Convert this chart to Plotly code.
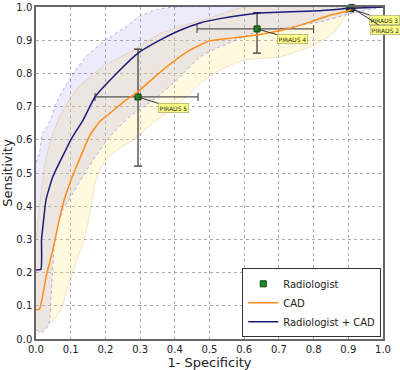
import plotly.graph_objects as go

# --- Radiologist + CAD (mean ROC) ---
rc_x = [0.0, 0.014, 0.016, 0.02, 0.029, 0.049, 0.086, 0.103, 0.136, 0.17, 0.242, 0.294, 0.357, 0.415, 0.473, 0.53, 0.645, 0.818, 0.905, 1.0]
rc_y = [0.208, 0.21, 0.30, 0.34, 0.42, 0.49, 0.57, 0.605, 0.66, 0.729, 0.81, 0.861, 0.9, 0.93, 0.952, 0.965, 0.982, 0.989, 0.996, 1.0]
# confidence band (Radiologist + CAD)
rc_hi_x = [0.0, 0.01, 0.019, 0.04, 0.058, 0.095, 0.144, 0.2, 0.259, 0.3, 0.35, 0.4, 1.0]
rc_hi_y = [0.53, 0.56, 0.62, 0.655, 0.71, 0.78, 0.85, 0.9, 0.94, 0.972, 0.993, 1.0, 1.0]
rc_lo_x = [0.0, 0.02, 0.038, 0.043, 0.046, 0.052, 0.063, 0.078, 0.107, 0.135, 0.165, 0.213, 0.27, 0.31, 0.357, 0.415, 0.473, 0.53, 0.637, 0.732, 0.82, 0.905, 1.0]
rc_lo_y = [0.027, 0.02, 0.048, 0.12, 0.17, 0.27, 0.34, 0.39, 0.44, 0.49, 0.54, 0.61, 0.67, 0.7, 0.735, 0.79, 0.85, 0.88, 0.925, 0.94, 0.955, 0.98, 1.0]

# --- CAD (mean ROC) ---
cad_x = [0.0, 0.01, 0.029, 0.049, 0.066, 0.086, 0.107, 0.135, 0.156, 0.184, 0.213, 0.26, 0.294, 0.348, 0.395, 0.444, 0.5, 0.568, 0.637, 0.732, 0.79, 0.847, 0.896, 0.93, 1.0]
cad_y = [0.088, 0.09, 0.187, 0.27, 0.355, 0.435, 0.495, 0.565, 0.615, 0.655, 0.68, 0.72, 0.745, 0.795, 0.835, 0.87, 0.898, 0.907, 0.916, 0.936, 0.955, 0.975, 0.987, 1.0, 1.0]
# confidence band (CAD)
cad_hi_x = [0.0, 0.01, 0.02, 0.03, 0.049, 0.078, 0.124, 0.193, 0.28, 0.357, 0.444, 0.5, 0.6, 1.0]
cad_hi_y = [0.30, 0.40, 0.48, 0.55, 0.62, 0.69, 0.76, 0.82, 0.87, 0.92, 0.95, 0.967, 1.0, 1.0]
cad_lo_x = [0.0, 0.029, 0.058, 0.078, 0.095, 0.115, 0.135, 0.15, 0.16, 0.17, 0.19, 0.22, 0.28, 0.348, 0.424, 0.473, 0.53, 0.597, 0.703, 0.79, 0.856, 0.896, 0.905, 1.0]
cad_lo_y = [0.012, 0.036, 0.066, 0.108, 0.17, 0.23, 0.29, 0.35, 0.41, 0.47, 0.52, 0.56, 0.6, 0.66, 0.72, 0.77, 0.81, 0.84, 0.85, 0.88, 0.92, 0.98, 1.0, 1.0]

# --- Radiologist operating points ---
rad_labels = ["PIRADS 5", "PIRADS 4", "PIRADS 3", "PIRADS 2"]
rad_x = [0.294, 0.637, 0.905, 0.91]
rad_y = [0.729, 0.934, 0.995, 0.998]
rad_x_lo = [0.17, 0.464, 0.895, 0.905]
rad_x_hi = [0.467, 0.80, 0.915, 0.915]
rad_y_lo = [0.521, 0.861, 0.99, 0.995]
rad_y_hi = [0.873, 0.983, 1.0, 1.0]
label_offsets = [(35, 11), (35, 10), (34, 11), (34, 22)]

ticks = [round(i * 0.1, 1) for i in range(11)]
tick_text = ["%.1f" % t for t in ticks]

fig = go.Figure()

# CAD band
fig.add_trace(go.Scatter(
    x=cad_hi_x + cad_lo_x[::-1], y=cad_hi_y + cad_lo_y[::-1],
    fill="toself", fillcolor="rgba(255,238,150,0.30)", mode="lines",
    line=dict(color="rgba(225,185,120,0.5)", width=0.8, shape="spline", smoothing=0.5),
    showlegend=False, hoverinfo="skip"))
# Radiologist + CAD band
fig.add_trace(go.Scatter(
    x=rc_hi_x + rc_lo_x[::-1], y=rc_hi_y + rc_lo_y[::-1],
    fill="toself", fillcolor="rgba(140,130,230,0.16)", mode="lines",
    line=dict(color="rgba(100,100,220,0.7)", width=0.7, dash="dot", shape="spline", smoothing=0.5),
    showlegend=False, hoverinfo="skip"))

fig.add_trace(go.Scatter(
    x=rad_x, y=rad_y, mode="markers", name="Radiologist",
    marker=dict(symbol="square", size=6, color="#1f8a1f", line=dict(color="#0b3d0b", width=1)),
    error_x=dict(type="data", symmetric=False,
                 array=[h - v for h, v in zip(rad_x_hi, rad_x)],
                 arrayminus=[v - l for v, l in zip(rad_x, rad_x_lo)],
                 color="#555555", thickness=1.2, width=4),
    error_y=dict(type="data", symmetric=False,
                 array=[h - v for h, v in zip(rad_y_hi, rad_y)],
                 arrayminus=[v - l for v, l in zip(rad_y, rad_y_lo)],
                 color="#333333", thickness=1.2, width=4),
    cliponaxis=False))

fig.add_trace(go.Scatter(x=cad_x, y=cad_y, mode="lines", name="CAD",
                         line=dict(color="#ff8c1a", width=1.5, shape="spline", smoothing=0.5)))
fig.add_trace(go.Scatter(x=rc_x, y=rc_y, mode="lines", name="Radiologist + CAD",
                         line=dict(color="#1c1c7c", width=1.5, shape="spline", smoothing=0.5)))

for lab, x, y, (ax, ay) in zip(rad_labels, rad_x, rad_y, label_offsets):
    fig.add_annotation(x=x, y=y, xref="x", yref="y", text=lab, showarrow=True,
                       arrowhead=0, arrowwidth=1, arrowcolor="#333333",
                       ax=ax, ay=ay, font=dict(size=6, color="#222222", family="DejaVu Sans"),
                       bgcolor="#ffff88", bordercolor="#999966", borderwidth=0.6, borderpad=1)

axis_common = dict(range=[0, 1], tickvals=ticks, ticktext=tick_text, automargin=False,
                   showgrid=True, gridcolor="#aaaaaa", griddash="dot", gridwidth=0.8,
                   zeroline=False, showline=True, mirror=True, linecolor="#666666",
                   linewidth=1.5, ticks="", tickfont=dict(size=10, color="#222222"))

fig.update_layout(
    width=400, height=370,
    margin=dict(l=36, r=17, t=7, b=31),
    paper_bgcolor="white", plot_bgcolor="white",
    font=dict(family="DejaVu Sans", color="#222222"),
    xaxis=dict(**axis_common, title=dict(text="1- Specificity", font=dict(size=13), standoff=2)),
    yaxis=dict(**axis_common, title=dict(text="Sensitivity", font=dict(size=13), standoff=2)),
    legend=dict(x=0.995, y=0.005, xanchor="right", yanchor="bottom",
                bgcolor="white", bordercolor="#333333", borderwidth=1,
                font=dict(size=10), tracegroupgap=0, itemwidth=30),
)

fig.write_html("out.html", config={"displayModeBar": False},
               post_script="document.body.style.margin='0px';")
